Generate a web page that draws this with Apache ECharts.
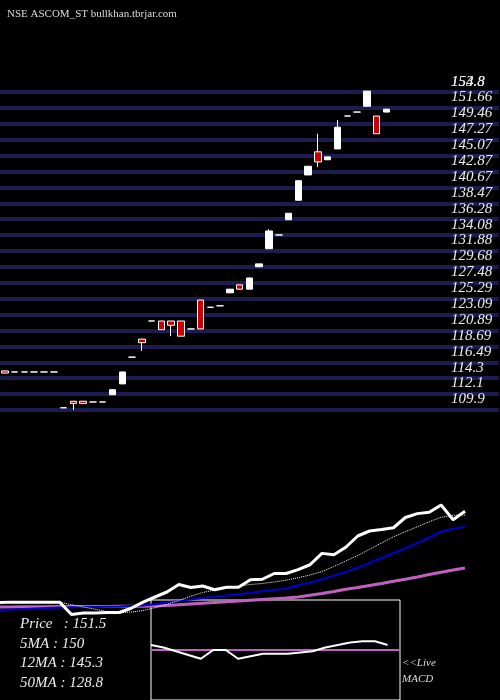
<!DOCTYPE html>
<html><head><meta charset="utf-8">
<script src="https://cdn.jsdelivr.net/npm/echarts@6/dist/echarts.min.js"></script>
<style>html,body{margin:0;background:#000}#c{width:500px;height:700px}</style>
</head><body><div id="c"></div>
<script>
// candles: [open, close, low, high]
const candles = [
[115.3,115.0,115.0,115.3],[115.15,115.15,115.15,115.15],[115.15,115.15,115.15,115.15],[115.15,115.15,115.15,115.15],
[115.15,115.15,115.15,115.15],[115.15,115.15,115.15,115.15],[110.2,110.2,110.2,110.2],[111.1,110.8,109.9,111.1],
[111.1,110.8,110.8,111.1],[111.0,111.0,111.0,111.0],[111.0,111.0,111.0,111.0],[112.0,112.7,112.0,112.7],
[113.5,115.15,113.5,115.15],[117.2,117.2,117.2,117.2],[119.7,119.2,118.05,119.7],[122.2,122.2,122.2,122.2],
[122.2,121.0,121.0,122.2],[122.2,121.6,120.1,122.2],[122.2,120.1,120.1,122.2],[121.1,121.1,121.1,121.1],
[125.1,121.1,121.1,125.1],[124.1,124.1,124.1,124.1],[124.3,124.3,124.3,124.3],[126.1,126.6,126.1,126.6],
[127.2,126.6,126.6,127.2],[126.6,128.15,126.6,128.15],[129.7,130.1,129.7,130.1],[132.2,134.65,132.2,134.9],
[134.1,134.1,134.1,134.1],[136.2,137.1,136.2,137.1],[138.9,141.6,138.9,141.6],[142.4,143.6,142.4,143.6],
[145.6,144.2,143.5,148.1],[144.5,144.9,144.5,144.9],[146.0,149.0,146.0,150.0],[150.55,150.55,150.55,150.55],
[151.1,151.1,151.1,151.1],[151.9,154.0,151.9,154.0],[150.55,148.1,148.1,150.55],[151.1,151.5,151.1,151.5]];
const closes = [115.0,115.15,115.15,115.15,115.15,115.15,110.2,110.8,110.8,111.0,111.0,112.7,115.15,117.2,119.2,122.2,121.0,121.6,120.1,121.1,121.1,124.1,124.3,126.6,126.6,128.15,130.1,134.65,134.1,137.1,141.6,143.6,144.2,144.9,149.0,150.55,151.1,154.0,148.1,151.5];
const ma5 = [115.1,115.1,115.1,115.1,115.1,115.1,114.1,113.2,112.3,111.3,110.9,111.2,111.8,112.9,114.3,115.8,117.5,119.0,120.0,120.8,121.5,122.2,122.6,123.2,123.9,124.9,126.0,127.4,129.4,131.6,133.8,136.3,138.8,141.3,143.3,145.3,147.3,149.1,149.9,150.0];
const ma12 = [112.0,112.2,112.4,112.6,112.8,113.0,113.1,113.2,113.2,113.3,113.4,113.6,113.8,114.3,115.0,115.6,116.2,116.8,117.3,117.8,118.3,118.9,119.5,120.0,120.6,121.9,123.0,124.3,125.7,127.2,128.9,130.8,132.8,134.7,136.7,138.8,141.0,143.3,144.5,145.3];
const ma50 = [113.2,113.2,113.3,113.3,113.3,113.4,113.4,113.4,113.4,113.4,113.5,113.5,113.5,113.6,113.8,114.1,114.4,114.7,115.0,115.3,115.6,115.9,116.2,116.5,116.8,117.2,117.9,118.6,119.4,120.3,121.0,121.8,122.6,123.5,124.3,125.2,126.2,127.1,128.0,128.8];
const macd = [4,2,-1,-4,-7,0,0,-7,-5,-3,-3,-3,-2,-1,2,4,6,7,7,4,null];
const tickValues = [109.9,112.1,114.3,116.49,118.69,120.89,123.09,125.29,127.48,129.68,131.88,134.08,136.28,138.47,140.67,142.87,145.07,147.27,149.46,151.66,153.86];
const tickLabels = ['109.9','112.1','114.3','116.49','118.69','120.89','123.09','125.29','127.48','129.68','131.88','134.08','136.28','138.47','140.67','142.87','145.07','147.27','149.46','151.66','153.8'];
const extraTopLabel = '154.8';
const infoLines = ['Price   : 151.5','5MA : 150','12MA : 145.3','50MA : 128.8'];

const font = 'Liberation Serif';
const nCat = 51;
const cats = Array.from({length:nCat},(_,i)=>i);
const candleData = cats.map(i=>candles[i]||'-');
const lineLbl = (t)=>({show:true,formatter:t,position:'insideStartTop',distance:[0,3],color:'#eee',fontFamily:font,fontStyle:'italic',fontSize:15});
const labelLines = tickValues.map((v,i)=>({yAxis:v,label:lineLbl(tickLabels[i])}));
labelLines.push({yAxis:153.86,label:lineLbl(extraTopLabel)});

const chart = echarts.init(document.getElementById('c'));
chart.setOption({
  backgroundColor:'#000',
  animation:false,
  title:{text:'NSE ASCOM_ST bullkhan.tbrjar.com',left:2,top:4,textStyle:{color:'#ddd',fontFamily:font,fontSize:11,fontWeight:'normal'}},
  grid:[
    {left:-1.9,top:47.7,width:500.8,height:433.8},
    {left:0,top:490,width:465,height:150},
    {left:151,top:600,width:249,height:110,show:true,borderColor:'#fff',borderWidth:1,backgroundColor:'#000'},
    {left:451,top:47.7,width:49,height:433.8}
  ],
  xAxis:[
    {gridIndex:0,type:'category',data:cats,show:false},
    {gridIndex:1,type:'category',data:cats.slice(0,40),boundaryGap:false,show:false},
    {gridIndex:2,type:'category',data:macd.map((_,i)=>i),boundaryGap:false,show:false},
    {gridIndex:3,type:'category',data:[0],show:false}
  ],
  yAxis:[
    {gridIndex:0,type:'value',min:100,max:160,show:false},
    {gridIndex:1,type:'value',min:100,max:160,show:false},
    {gridIndex:2,type:'value',min:-40,max:40,show:false},
    {gridIndex:3,type:'value',min:100,max:160,show:false}
  ],
  series:[
    {type:'line',xAxisIndex:0,yAxisIndex:0,data:[],z:1,
     markLine:{silent:true,z:1,symbol:'none',label:{show:false},lineStyle:{color:'#1c1c50',width:4,type:'solid'},data:tickValues.map(v=>({yAxis:v}))}},
    {type:'line',xAxisIndex:3,yAxisIndex:3,data:[],z:4,
     markLine:{silent:true,z:4,symbol:'none',lineStyle:{color:'rgba(0,0,0,0)',width:0},data:labelLines}},
    {type:'candlestick',xAxisIndex:0,yAxisIndex:0,data:candleData,barWidth:7,z:10,
     itemStyle:{color:'#fff',borderColor:'#fff',color0:'#cc0000',borderColor0:'#fff',borderWidth:1}},
    {type:'line',xAxisIndex:1,yAxisIndex:1,data:ma50,symbol:'none',lineStyle:{color:'#c060c0',width:3}},
    {type:'line',xAxisIndex:1,yAxisIndex:1,data:ma12,symbol:'none',lineStyle:{color:'#0000cc',width:2}},
    {type:'line',xAxisIndex:1,yAxisIndex:1,data:ma5,symbol:'none',lineStyle:{color:'#fff',width:1,type:'dotted'}},
    {type:'line',xAxisIndex:1,yAxisIndex:1,data:closes,symbol:'none',lineStyle:{color:'#fff',width:3}},
    {type:'line',xAxisIndex:2,yAxisIndex:2,data:macd,symbol:'none',z:5,lineStyle:{color:'#fff',width:2},
     markLine:{silent:true,symbol:'none',label:{show:false},lineStyle:{color:'#c060c0',width:2,type:'solid'},data:[{yAxis:0}]}}
  ],
  graphic:[
    ...infoLines.map((t,i)=>({type:'text',left:20,top:617+i*19.5,z:10,style:{text:t,fill:'#eee',font:'italic 15px "Liberation Serif"'}})),
    {type:'text',left:402,top:658,z:10,style:{text:'<<Live',fill:'#ddd',font:'italic 11px "Liberation Serif"'}},
    {type:'text',left:402,top:674,z:10,style:{text:'MACD',fill:'#ddd',font:'italic 11px "Liberation Serif"'}}
  ]
});
</script></body></html>
